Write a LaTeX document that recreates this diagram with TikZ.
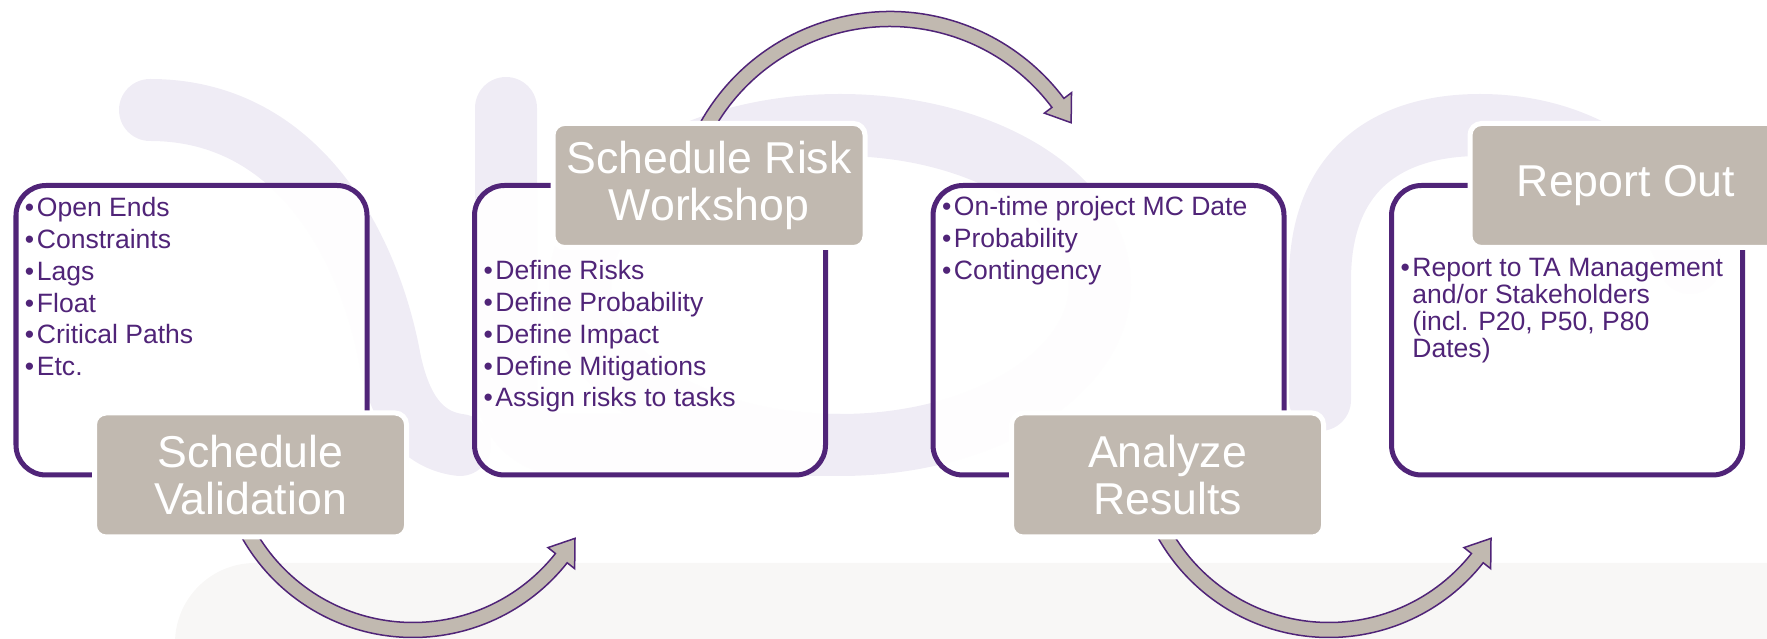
\documentclass[tikz,border=0pt]{standalone}
\usepackage{fontspec}
\setmainfont{Liberation Sans}
\usetikzlibrary{calc,positioning}
\definecolor{srapurple}{HTML}{502478}
\definecolor{sragray}{HTML}{C1B9B0}
\definecolor{sralilac}{HTML}{EFECF5}
\definecolor{srafloor}{HTML}{F8F7F6}
\newcommand\bul{\textbullet\hspace{1.5pt}}
\newcommand\bulgap{\hphantom{\bul}}
\newcommand\arcarrow[5]{%
  \pgfmathsetmacro\arcout{#2+0.15}\pgfmathsetmacro\arcin{#2-0.15}%
  \pgfmathsetmacro\barbout{#2+0.34}\pgfmathsetmacro\barbin{#2-0.34}%
  \filldraw[arcarr] ($(#1)+(#3:\arcout)$) arc[start angle=#3,end angle=#4,radius=\arcout]
    -- ($(#1)+(#4:\barbout)$) -- ($(#1)+(#5:#2)$) -- ($(#1)+(#4:\barbin)$)
    -- ($(#1)+(#4:\arcin)$) arc[start angle=#4,end angle=#3,radius=\arcin] -- cycle;}
\begin{document}
\begin{tikzpicture}[inner sep=0pt,outer sep=0pt,
panel/.style={draw=srapurple,line width=0.1cm,rounded corners=0.6cm,fill=white,fill opacity=0.94,minimum width=7.02cm,minimum height=5.79cm},
tag/.style={fill=sragray,draw=white,line width=0.1cm,rounded corners=0.23cm,minimum width=6.24cm,minimum height=2.48cm,text=white,align=center,font=\fontsize{25.4}{26.5}\selectfont},
bullets/.style={text=srapurple,align=left,font=\fontsize{15.1}{18.1}\selectfont},
ghost/.style={draw=sralilac,line width=1.24cm,line cap=round},
arcarr/.style={fill=sragray,draw=srapurple,line width=0.03cm,line join=miter}]
\useasboundingbox (0,0) rectangle (35.34,12.76);
\clip (0,0) rectangle (35.34,12.76);
\fill[srafloor,rounded corners=1.6cm] (3.5,1.5) rectangle (37,-2.5);
\draw[ghost] (3.0,10.56) .. controls (6.0,10.56) and (7.4,7.76) .. (7.8,5.56) .. controls (8.0,4.6) and (8.4,3.96) .. (9.2,3.86);
\draw[ghost,rounded corners=1.2cm] (10.12,10.6) -- (10.12,3.86) -- (16.8,3.86);
\draw[ghost] (16.8,7.06) ellipse[x radius=5.2,y radius=3.2];
\draw[ghost] (26.4,4.76) -- (26.4,7.16) .. controls (26.4,9.4) and (27.8,10.26) .. (29.6,10.26) .. controls (31.6,10.26) and (33.2,9.2) .. (33.8,7.5);
\coordinate (turn1) at (8.26,3.94);
\coordinate (turn2) at (17.8,8.18);
\coordinate (turn3) at (26.58,3.94);
\arcarrow{turn1}{3.78}{208}{321.7}{329}
\arcarrow{turn2}{4.2}{152}{36.9}{30.4}
\arcarrow{turn3}{3.78}{208}{321.7}{329}
\node[panel] (box1) at (3.83,6.155) {};
\node[panel,right=2.15cm of box1] (box2) {};
\node[panel,right=2.15cm of box2] (box3) {};
\node[panel,right=2.15cm of box3] (box4) {};
\node[bullets,below right=0.24cm and 0.18cm of box1.north west] (list1) {\bul Open Ends\\\bul Constraints\\\bul Lags\\\bul Float\\\bul Critical Paths\\\bul Etc.};
\node[bullets,below right=1.5cm and 0.18cm of box2.north west] (list2) {\bul Define Risks\\\bul Define Probability\\\bul Define Impact\\\bul Define Mitigations\\\bul Assign risks to tasks};
\node[bullets,below right=0.22cm and 0.18cm of box3.north west] (list3) {\bul On-time project MC Date\\\bul Probability\\\bul Contingency};
\node[bullets,font=\fontsize{15.1}{15.3}\selectfont,below right=1.46cm and 0.18cm of box4.north west] (list4) {\bul Report to TA Management\\\bulgap and/or Stakeholders\\\bulgap (incl. P20, P50, P80\\\bulgap Dates)};
\node[tag] (validate) at ([xshift=1.18cm]box1.south) {Schedule\\Validation};
\node[tag] (workshop) at ([xshift=1.18cm]box2.north) {Schedule Risk\\Workshop};
\node[tag] (analyze) at ([xshift=1.18cm]box3.south) {Analyze\\Results};
\node[tag] (report) at ([xshift=1.18cm]box4.north) {Report Out};
\end{tikzpicture}
\end{document}
